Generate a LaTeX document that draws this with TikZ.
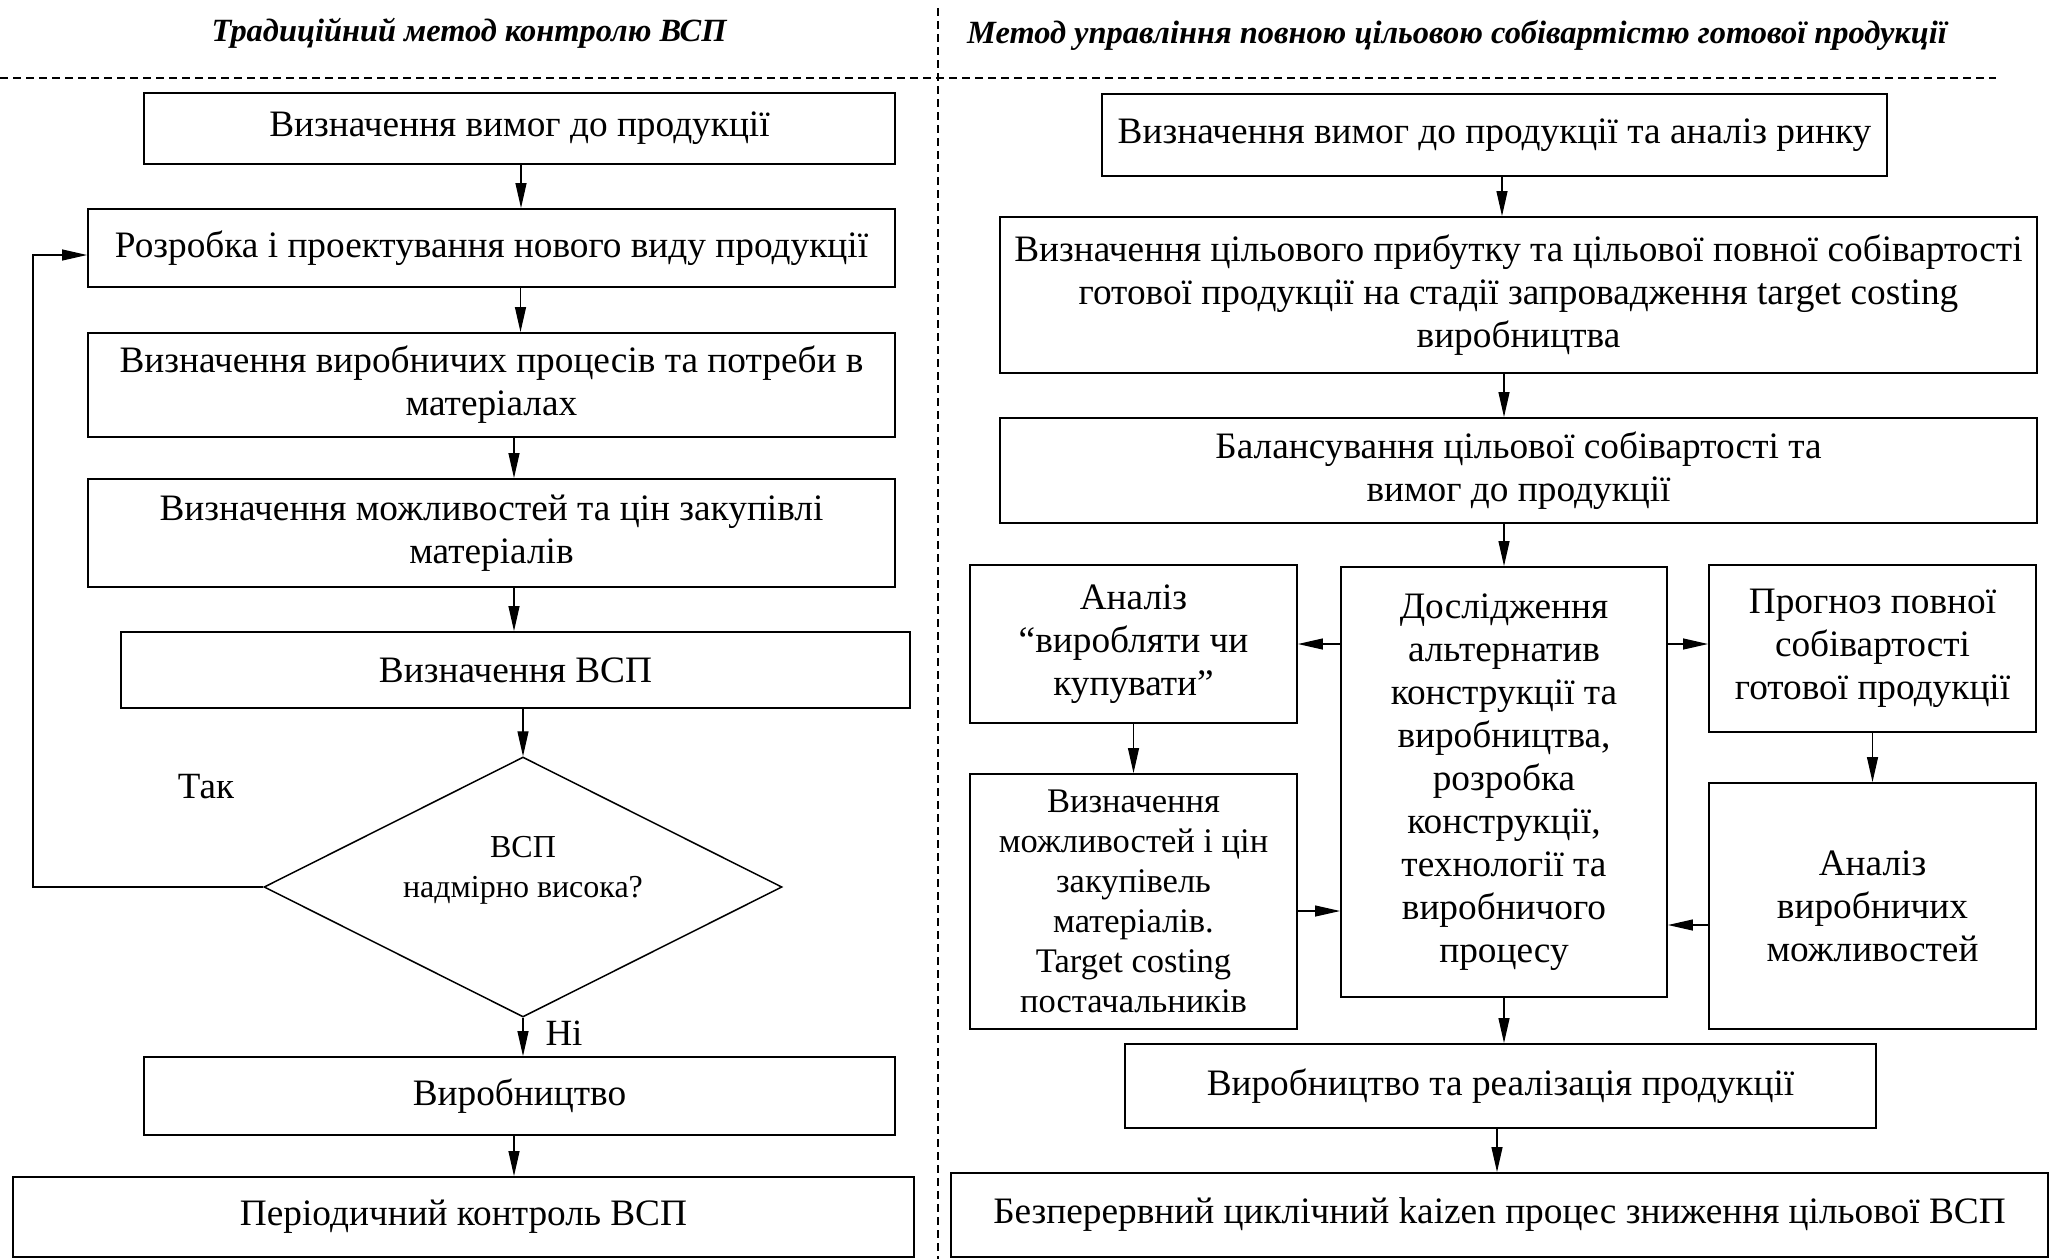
\documentclass[tikz,border=0pt]{standalone}
\usepackage{fontspec}
\setmainfont{Liberation Serif}
\usetikzlibrary{arrows.meta,shapes.geometric,calc}

\begin{document}
\begin{tikzpicture}[x=1pt,y=-1pt,
  box/.style={draw,line width=1.9pt,inner sep=0pt,align=center,
    font=\fontsize{37.3}{43}\selectfont},
  smallbox/.style={box,font=\fontsize{34.5}{40}\selectfont},
  arr/.style={line width=1.2pt,-{Triangle[length=25pt,width=11pt]}},
  sep/.style={line width=1.2pt,dash pattern=on 8pt off 5pt},
  ttl/.style={font=\fontsize{32.4}{38}\selectfont\bfseries\itshape},
  lbl/.style={font=\fontsize{37}{42}\selectfont}]
\useasboundingbox (0,0) rectangle (2050,1259);

% separators and column headings
\draw[sep] (0,78) -- (1996,78);
\draw[sep] (938,8) -- (938,1259);
\node[ttl] (t1) at (469,33) {Традиційний метод контролю ВСП};
\node[ttl] (t2) at (1457,35) {Метод управління повною цільовою собівартістю готової продукції};

% left column: traditional control
\node[box,minimum width=751,minimum height=71] (L1) at (519.5,128.5) {Визначення вимог до продукції};
\node[box,minimum width=807,minimum height=78] (L2) at (491.5,248) {Розробка і проектування нового виду продукції};
\node[box,minimum width=807,minimum height=104] (L3) at (491.5,385) {Визначення виробничих процесів та потреби в\\матеріалах};
\node[box,minimum width=807,minimum height=108] (L4) at (491.5,533) {Визначення можливостей та цін закупівлі\\матеріалів};
\node[box,minimum width=789,minimum height=76] (L5) at (515.5,670) {Визначення ВСП};
\node[draw,line width=1.5pt,shape=diamond,inner sep=0pt,minimum width=518,minimum height=260] (D) at (523,887) {};
\node[align=center,font=\fontsize{32}{40}\selectfont] (Dt) at (523,870) {ВСП\\надмірно висока?};
\node[box,minimum width=751,minimum height=78] (L6) at (519.5,1096) {Виробництво};
\node[box,minimum width=901,minimum height=80] (L7) at (463.5,1217) {Періодичний контроль ВСП};
\node[lbl] (yes) at (206,787) {Так};
\node[lbl] (no) at (564,1033) {Ні};

\draw[arr] ([xshift=1.5pt]L1.south) -- ([xshift=1.5pt]L1.south |- L2.north);
\draw[arr] ([xshift=29pt]L2.south) -- ([xshift=29pt]L3.north);
\draw[arr] ([xshift=22.5pt]L3.south) -- ([xshift=22.5pt]L4.north);
\draw[arr] ([xshift=22.5pt]L4.south) -- ([xshift=22.5pt]L4.south |- L5.north);
\draw[arr] (L5.south -| D.north) -- (D.north);
\draw[arr] (D.south) -- (D.south |- L6.north);
\draw[arr] ([xshift=-5.5pt]L6.south) -- ([xshift=-5.5pt]L6.south |- L7.north);
\coordinate (fb) at (33,255);
\draw[arr] (D.west) -| (fb) -- (fb -| L2.west);

% right column: target costing
\node[box,minimum width=785,minimum height=82] (R1) at (1494.5,135) {Визначення вимог до продукції та аналіз ринку};
\node[box,minimum width=1037,minimum height=156] (R2) at (1518.5,295) {Визначення цільового прибутку та цільової повної собівартості\\готової продукції на стадії запровадження target costing\\виробництва};
\node[box,minimum width=1037,minimum height=105] (R3) at (1518.5,470.5) {Балансування цільової собівартості та\\вимог до продукції};
\node[box,minimum width=327,minimum height=158] (A) at (1133.5,644) {Аналіз\\“виробляти чи\\купувати”};
\node[box,minimum width=326,minimum height=430] (C) at (1504,782) {Дослідження\\альтернатив\\конструкції та\\виробництва,\\розробка\\конструкції,\\технології та\\виробничого\\процесу};
\node[box,minimum width=327,minimum height=167] (P) at (1872.5,648.5) {Прогноз повної\\собівартості\\готової продукції};
\node[smallbox,minimum width=327,minimum height=255] (M) at (1133.5,901.5) {Визначення\\можливостей і цін\\закупівель\\матеріалів.\\Target costing\\постачальників};
\node[box,minimum width=327,minimum height=246] (V) at (1872.5,906) {Аналіз\\виробничих\\можливостей};
\node[box,minimum width=751,minimum height=84] (R4) at (1500.5,1086) {Виробництво та реалізація продукції};
\node[box,minimum width=1097,minimum height=84] (R5) at (1499.5,1215) {Безперервний циклічний kaizen процес зниження цільової ВСП};

\draw[arr] ([xshift=7.5pt]R1.south) -- ([xshift=7.5pt]R1.south |- R2.north);
\draw[arr] (R2.south -| C.north) -- (R3.north -| C.north);
\draw[arr] (R3.south -| C.north) -- (C.north);
\draw[arr] (C.west |- A.east) -- (A.east);
\draw[arr] (C.east |- A.east) -- (A.east -| P.west);
\draw[arr] (A.south) -- (A.south |- M.north);
\draw[arr] (P.south) -- (P.south |- V.north);
\coordinate (mc) at ($(M.east)+(0,9.5)$);
\coordinate (vc) at ($(V.west)+(0,19)$);
\draw[arr] (mc) -- (mc -| C.west);
\draw[arr] (vc) -- (vc -| C.east);
\draw[arr] (C.south) -- (C.south |- R4.north);
\draw[arr] ([xshift=-3.5pt]R4.south) -- ([xshift=-3.5pt]R4.south |- R5.north);
\end{tikzpicture}
\end{document}
